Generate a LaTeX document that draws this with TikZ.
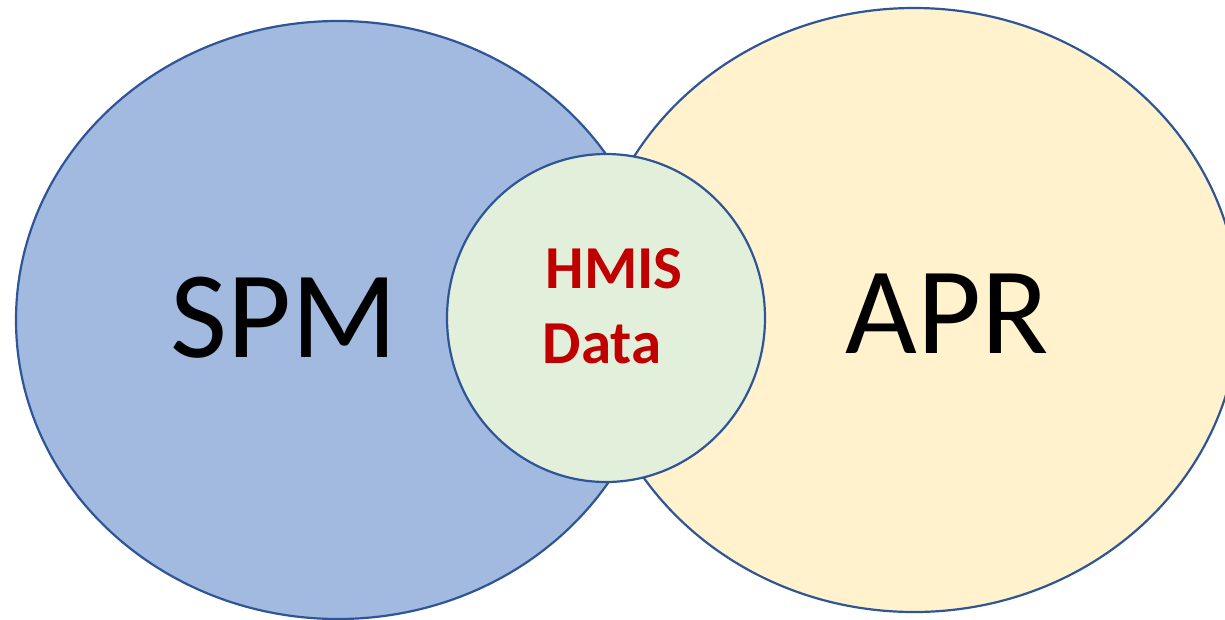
\documentclass[tikz,border=0pt]{standalone}
\usepackage{fontspec}
\setmainfont{Carlito}
\definecolor{edgeblue}{HTML}{2F5597}
\definecolor{spmfill}{HTML}{A2B9E0}
\definecolor{aprfill}{HTML}{FFF2CC}
\definecolor{hmisfill}{HTML}{E2EFDA}
\definecolor{hmisred}{HTML}{C00000}
\tikzset{
  setshape/.style={draw=edgeblue, line width=2.2pt},
  bigword/.style={anchor=base, inner sep=0pt, font=\fontsize{124}{124}\selectfont, text=black},
  centerword/.style={anchor=base, inner sep=0pt, font=\fontsize{61}{61}\selectfont\bfseries, text=hmisred}
}
\begin{document}
\begin{tikzpicture}[x=1pt,y=-1pt]
\useasboundingbox (0,0) rectangle (1225,619);
\draw[setshape, fill=spmfill] (338,320) ellipse [x radius=322, y radius=299];
\draw[setshape, fill=aprfill] (914,310) ellipse [x radius=325, y radius=302];
\draw[setshape, fill=hmisfill] (606,318) ellipse [x radius=159, y radius=164];
\node[bigword] (spm) at (284,357) {SPM};
\node[bigword] (apr) at (947,353) {APR};
\node[centerword] (hmis) at (614,288) {HMIS};
\node[centerword] (data) at (602,363) {Data};
\end{tikzpicture}
\end{document}
